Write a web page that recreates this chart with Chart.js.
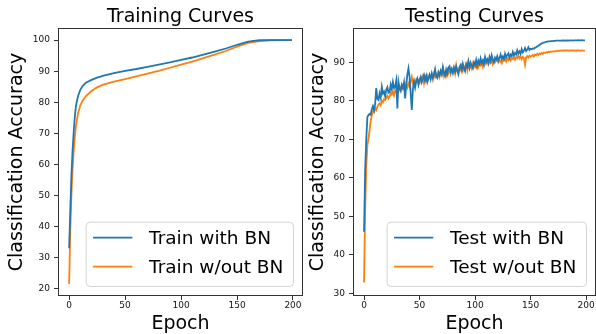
<!DOCTYPE html>
<html>
<head>
<meta charset="utf-8">
<script src="https://cdn.jsdelivr.net/npm/chart.js@4.4.1/dist/chart.umd.min.js"></script>
<style>
  html, body { margin: 0; padding: 0; background: #fff; overflow: hidden; }
  #wrap { position: relative; width: 596px; height: 334px; }
  canvas { position: absolute; top: 0; }
  #trainChart { left: 0; }
  #testChart { left: 305px; }
</style>
</head>
<body>
<div id="wrap">
  <canvas id="trainChart" width="305" height="334"></canvas>
  <canvas id="testChart" width="291" height="334"></canvas>
</div>
<script>
/* ---- data ---- */
const epochTicks = [0, 50, 100, 150, 200];
const trainTicks = [20, 30, 40, 50, 60, 70, 80, 90, 100];
const testTicks  = [30, 40, 50, 60, 70, 80, 90];

// training curves are smooth, so sampled at these epochs
const trainEpochs = [0, 1, 2, 3, 4, 5, 6, 7, 8, 10, 12, 15, 20, 25, 30, 40, 50, 60, 70, 80,
  90, 100, 110, 120, 130, 140, 150, 160, 170, 180, 190, 199];
const trainWithBN = [33, 45, 56, 64, 70, 75, 78.5, 80.5, 82, 84, 85.2, 86.3, 87.2, 87.9, 88.5, 89.4, 90.1, 90.7, 91.4, 92.1,
  92.8, 93.6, 94.4, 95.3, 96.3, 97.3, 98.5, 99.5, 99.95, 100, 100, 100];
const trainNoBN = [21.5, 38, 50, 58, 64, 68.5, 72, 74.5, 76.5, 79, 80.5, 82, 83.6, 84.8, 85.6, 86.6, 87.4, 88.3, 89.2, 90.1,
  91.1, 92.1, 93.1, 94.2, 95.3, 96.5, 97.9, 99.1, 99.7, 99.95, 100, 100];

// test accuracy, one value per epoch 0..199
const testWithBN = [
  46, 62, 70, 75.8, 76.3, 76.6, 76.4, 77.8, 78.6, 77.6,
  79.2, 83.3, 80.5, 80.2, 81.9, 80.8, 83.6, 81.9, 82.4, 81.2,
  82.8, 83.5, 82.1, 82.3, 84.2, 83.0, 84.9, 83.3, 83.6, 85.2,
  78.0, 84.9, 83.2, 82.6, 84.1, 83.4, 84.8, 80.6, 84.0, 86.8,
  88.4, 86.2, 82.0, 77.6, 83.0, 84.9, 83.4, 85.1, 85.8, 84.2,
  85.5, 86.2, 84.8, 85.7, 86.6, 85.2, 86.4, 84.9, 86.0, 86.8,
  85.6, 87.1, 86.0, 86.9, 88.2, 86.3, 85.9, 87.4, 86.6, 87.8,
  86.9, 88.8, 87.2, 86.5, 88.1, 87.0, 88.6, 89.0, 87.5, 88.3,
  87.2, 88.6, 87.6, 88.9, 87.8, 86.9, 88.7, 89.3, 88.0, 89.6,
  88.4, 87.7, 89.5, 88.8, 90.2, 88.6, 89.9, 89.1, 88.5, 90.0,
  89.3, 90.6, 89.0, 90.4, 89.6, 91.0, 89.8, 90.5, 89.4, 91.3,
  90.1, 90.8, 89.9, 91.4, 90.4, 91.8, 90.6, 90.0, 91.2, 90.7,
  91.6, 90.5, 91.1, 92.0, 90.8, 91.5, 90.9, 92.2, 91.3, 91.9,
  92.3, 91.2, 92.0, 91.6, 92.7, 91.8, 92.4, 92.0, 93.1, 92.3,
  92.8, 92.2, 93.4, 92.6, 93.0, 93.7, 92.9, 93.3, 93.9, 93.2,
  93.5, 93.4, 93.6, 93.5, 93.8, 93.9, 94.1, 94.3, 94.5, 94.7,
  94.9, 95.0, 95.1, 95.2, 95.3, 95.35, 95.4, 95.45, 95.5, 95.5,
  95.5, 95.55, 95.55, 95.6, 95.6, 95.6, 95.6, 95.6, 95.6, 95.65,
  95.65, 95.6, 95.65, 95.65, 95.7, 95.65, 95.7, 95.7, 95.65, 95.7,
  95.7, 95.7, 95.7, 95.75, 95.7, 95.7, 95.75, 95.7, 95.7, 95.7
];
const testNoBN = [
  32.8, 52, 63, 68.5, 70.2, 72.4, 74.8, 76.2, 77.2, 77.0,
  78.1, 77.6, 78.5, 79.0, 79.3, 78.8, 80.0, 79.6, 80.4, 80.2,
  80.8, 81.3, 80.6, 81.1, 82.0, 81.6, 82.3, 81.4, 82.8, 82.2,
  83.0, 82.4, 83.6, 82.7, 84.0, 83.1, 83.8, 82.8, 84.4, 83.5,
  84.5, 83.6, 85.0, 86.2, 84.6, 85.3, 84.3, 85.6, 85.3, 84.8,
  84.5, 85.8, 86.0, 86.6, 84.6, 86.3, 85.4, 86.5, 85.6, 86.4,
  85.9, 86.8, 85.5, 87.0, 86.1, 86.9, 86.2, 87.3, 86.2, 87.6,
  86.8, 87.9, 86.4, 87.5, 86.6, 88.0, 87.2, 88.3, 87.0, 88.1,
  87.4, 88.5, 87.1, 89.2, 87.5, 87.5, 88.6, 88.0, 89.0, 87.8,
  88.9, 88.2, 89.4, 88.0, 90.1, 88.4, 89.0, 88.3, 89.6, 88.7,
  89.3, 88.6, 89.8, 88.9, 90.0, 89.2, 89.7, 88.8, 90.3, 91.0,
  89.6, 90.1, 89.4, 90.4, 89.8, 90.6, 89.5, 90.2, 90.0, 90.8,
  90.3, 89.9, 90.6, 90.1, 89.7, 90.7, 90.4, 90.9, 90.2, 91.0,
  90.6, 91.2, 90.5, 91.0, 90.8, 91.4, 90.7, 91.3, 91.1, 91.8,
  91.0, 91.5, 90.8, 91.4, 91.1, 89.4, 91.3, 91.6, 91.2, 91.7,
  91.4, 91.6, 91.9, 91.5, 92.0, 91.8, 92.2, 91.9, 92.3, 92.1,
  92.4, 92.2, 92.5, 92.4, 92.6, 92.5, 92.7, 92.6, 92.8, 92.7,
  92.8, 92.9, 92.8, 92.9, 93.0, 92.9, 93.0, 93.0, 93.1, 93.0,
  93.1, 93.0, 93.1, 93.1, 93.0, 93.1, 93.0, 93.1, 93.1, 93.0,
  93.1, 93.0, 93.1, 93.1, 93.0, 93.0, 93.1, 93.0, 93.0, 93.0
];

/* ---- style ---- */
const FONT = "'DejaVu Sans', sans-serif";
const BLUE = '#1f77b4';
const ORANGE = '#ff7f0e';
const INK = '#111';

// four-sided axes frame, like matplotlib spines
const frame = {
  id: 'frame',
  afterDatasetsDraw(chart) {
    const { ctx, chartArea: a } = chart;
    ctx.save();
    ctx.strokeStyle = '#333';
    ctx.lineWidth = 1;
    ctx.strokeRect(a.left + 0.5, a.top + 0.5, a.right - a.left - 1, a.bottom - a.top - 1);
    ctx.restore();
  }
};

// title centred over the plot area
const heading = {
  id: 'heading',
  afterDraw(chart, args, opts) {
    const { ctx, chartArea: a } = chart;
    ctx.save();
    ctx.font = '19px ' + FONT;
    ctx.fillStyle = '#000';
    ctx.textAlign = 'center';
    ctx.textBaseline = 'alphabetic';
    ctx.fillText(opts.text, (a.left + a.right) / 2, 21.5);
    ctx.restore();
  }
};

// boxed legend in the lower right corner of the plot
const boxLegend = {
  id: 'boxLegend',
  afterDraw(chart) {
    const { ctx, chartArea: a } = chart;
    const sets = chart.data.datasets;
    ctx.save();
    ctx.font = '18.5px ' + FONT;
    const tw = Math.max(...sets.map(d => ctx.measureText(d.label).width));
    const w = 7.4 + 39.3 + 16.7 + tw + 9.6, h = 64.3;
    const x = a.right - 10 - w, y = a.bottom - 10 - h;
    ctx.beginPath();
    ctx.roundRect(x + 0.5, y + 0.5, w, h, 4);
    ctx.fillStyle = 'rgba(255,255,255,0.8)';
    ctx.fill();
    ctx.strokeStyle = '#d4d4d4';
    ctx.lineWidth = 1;
    ctx.stroke();
    sets.forEach((d, i) => {
      const ry = y + 15.9 + i * 29;
      ctx.strokeStyle = d.borderColor;
      ctx.lineWidth = 1.8;
      ctx.beginPath();
      ctx.moveTo(x + 7.4, ry);
      ctx.lineTo(x + 46.7, ry);
      ctx.stroke();
      ctx.fillStyle = '#000';
      ctx.textAlign = 'left';
      ctx.textBaseline = 'alphabetic';
      ctx.fillText(d.label, x + 63.4, ry + 6.8);
    });
    ctx.restore();
  }
};

function fixedTicks(list) {
  return scale => { scale.ticks = list.map(v => ({ value: v })); };
}

function curveChart(id, cfg) {
  return new Chart(document.getElementById(id), {
    type: 'line',
    data: {
      datasets: cfg.sets.map(s => ({
        label: s.label, data: s.data, borderColor: s.color, backgroundColor: s.color,
        borderWidth: 1.8, pointRadius: 0, tension: 0
      }))
    },
    options: {
      responsive: false,
      animation: false,
      events: [],
      layout: { padding: { top: 28, right: cfg.padRight, left: 0, bottom: 0 } },
      plugins: { legend: { display: false }, tooltip: { enabled: false }, heading: { text: cfg.title } },
      scales: {
        x: {
          type: 'linear', min: -9.95, max: 208.95,
          afterBuildTicks: fixedTicks(epochTicks),
          afterFit: s => { s.height = 38; },
          border: { display: false },
          grid: { drawOnChartArea: false, drawTicks: true, tickLength: 4, color: '#333' },
          ticks: { color: INK, font: { family: FONT, size: 9 }, padding: 0, autoSkip: false, maxRotation: 0 },
          title: { display: true, text: 'Epoch', color: '#000', font: { family: FONT, size: 19 }, padding: { top: 0, bottom: -1 } }
        },
        y: {
          min: cfg.yMin, max: cfg.yMax,
          afterBuildTicks: fixedTicks(cfg.yTicks),
          afterFit: s => { s.width = cfg.yWidth; },
          border: { display: false },
          grid: { drawOnChartArea: false, drawTicks: true, tickLength: 4, color: '#333' },
          ticks: { color: INK, font: { family: FONT, size: 9 }, padding: 4 },
          title: { display: true, text: 'Classification Accuracy', color: '#000', font: { family: FONT, size: 19 }, padding: { top: cfg.yTitlePad, bottom: 0 } }
        }
      }
    },
    plugins: [frame, heading, boxLegend]
  });
}

const trainChart = curveChart('trainChart', {
  title: 'Training Curves', yMin: 17.6, yMax: 103.9, yTicks: trainTicks, yWidth: 58, yTitlePad: 6, padRight: 2,
  sets: [
    { label: 'Train with BN', color: BLUE, data: trainEpochs.map((x, i) => ({ x, y: trainWithBN[i] })) },
    { label: 'Train w/out BN', color: ORANGE, data: trainEpochs.map((x, i) => ({ x, y: trainNoBN[i] })) }
  ]
});

const testChart = curveChart('testChart', {
  title: 'Testing Curves', yMin: 29.3, yMax: 98.9, yTicks: testTicks, yWidth: 48, yTitlePad: 1.6, padRight: 0,
  sets: [
    { label: 'Test with BN', color: BLUE, data: testWithBN.map((y, x) => ({ x, y })) },
    { label: 'Test w/out BN', color: ORANGE, data: testNoBN.map((y, x) => ({ x, y })) }
  ]
});
</script>
</body>
</html>
